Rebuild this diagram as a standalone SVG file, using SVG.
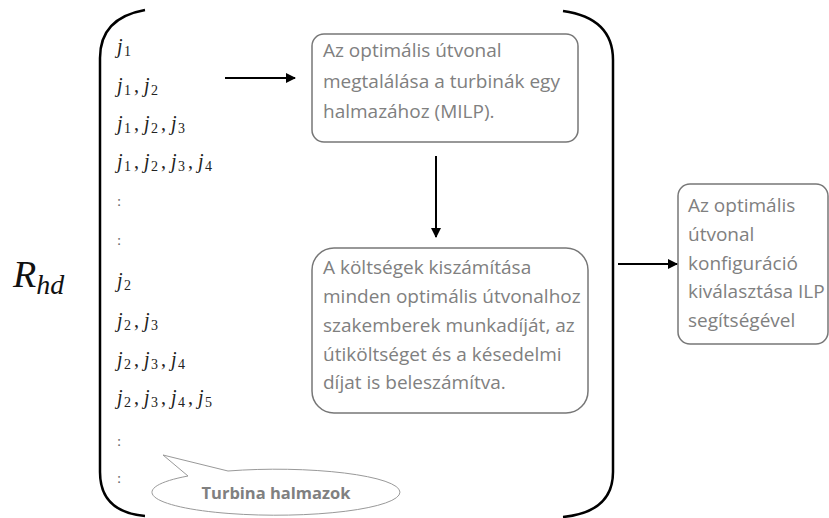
<svg xmlns="http://www.w3.org/2000/svg" width="829" height="518" viewBox="0 0 829 518">
<defs>
<marker id="ah" viewBox="0 0 10 10" refX="9" refY="5" markerWidth="5" markerHeight="5" orient="auto" markerUnits="strokeWidth">
<path d="M0,0 L10,5 L0,10 z" fill="#000"/>
</marker>
<style>
.br{fill:none;stroke:#000;stroke-width:2.5}
.box{fill:#fff;stroke:#777;stroke-width:1.5}
.bt{font-family:"Open Sans","Liberation Sans",Arial,sans-serif;font-size:19px;fill:#808080}
.m{font-family:"Liberation Serif","Times New Roman",serif;font-size:20px;fill:#222}
.j{font-style:italic}
.s{font-size:14px}
.col{font-family:"Liberation Serif",serif;font-size:15px;fill:#666}
.conn{stroke:#000;stroke-width:2;fill:none}
</style>
</defs>
<rect width="829" height="518" fill="#fff"/>

<g id="label-rhd">
<text x="13" y="287" font-family="Liberation Serif,Times New Roman,serif" font-style="italic" font-size="38" fill="#111">R<tspan font-size="28" dy="7">hd</tspan></text>
</g>

<g id="brackets">
<path class="br" d="M145,10 Q100,18 100,58 L100,472 Q100,512 145,516"/>
<path class="br" d="M563,11 Q613,18 613,60 L613,472 Q613,512 563,517"/>
</g>

<g id="turbine-sets">
<text class="m" y="53"><tspan class="j" x="117">j</tspan><tspan class="s" x="124" dy="3">1</tspan></text>
<text class="m" y="92"><tspan class="j" x="117">j</tspan><tspan class="s" x="124" dy="3">1</tspan><tspan x="134" dy="-3">,</tspan><tspan class="j" x="144">j</tspan><tspan class="s" x="151" dy="3">2</tspan></text>
<text class="m" y="130"><tspan class="j" x="117">j</tspan><tspan class="s" x="124" dy="3">1</tspan><tspan x="134" dy="-3">,</tspan><tspan class="j" x="144">j</tspan><tspan class="s" x="151" dy="3">2</tspan><tspan x="161" dy="-3">,</tspan><tspan class="j" x="171">j</tspan><tspan class="s" x="178" dy="3">3</tspan></text>
<text class="m" y="168"><tspan class="j" x="117">j</tspan><tspan class="s" x="124" dy="3">1</tspan><tspan x="134" dy="-3">,</tspan><tspan class="j" x="144">j</tspan><tspan class="s" x="151" dy="3">2</tspan><tspan x="161" dy="-3">,</tspan><tspan class="j" x="171">j</tspan><tspan class="s" x="178" dy="3">3</tspan><tspan x="188" dy="-3">,</tspan><tspan class="j" x="198">j</tspan><tspan class="s" x="205" dy="3">4</tspan></text>
<text class="col" x="117" y="206">:</text>
<text class="col" x="117" y="245">:</text>
<text class="m" y="287"><tspan class="j" x="117">j</tspan><tspan class="s" x="124" dy="3">2</tspan></text>
<text class="m" y="327"><tspan class="j" x="117">j</tspan><tspan class="s" x="124" dy="3">2</tspan><tspan x="134" dy="-3">,</tspan><tspan class="j" x="144">j</tspan><tspan class="s" x="151" dy="3">3</tspan></text>
<text class="m" y="366"><tspan class="j" x="117">j</tspan><tspan class="s" x="124" dy="3">2</tspan><tspan x="134" dy="-3">,</tspan><tspan class="j" x="144">j</tspan><tspan class="s" x="151" dy="3">3</tspan><tspan x="161" dy="-3">,</tspan><tspan class="j" x="171">j</tspan><tspan class="s" x="178" dy="3">4</tspan></text>
<text class="m" y="404"><tspan class="j" x="117">j</tspan><tspan class="s" x="124" dy="3">2</tspan><tspan x="134" dy="-3">,</tspan><tspan class="j" x="144">j</tspan><tspan class="s" x="151" dy="3">3</tspan><tspan x="161" dy="-3">,</tspan><tspan class="j" x="171">j</tspan><tspan class="s" x="178" dy="3">4</tspan><tspan x="188" dy="-3">,</tspan><tspan class="j" x="198">j</tspan><tspan class="s" x="205" dy="3">5</tspan></text>
<text class="col" x="117" y="446">:</text>
<text class="col" x="117" y="483">:</text>
</g>

<g id="node-milp">
<rect class="box" x="312" y="34" width="266" height="108" rx="12"/>
<text class="bt" x="323" y="57">Az optimális útvonal</text>
<text class="bt" x="323" y="88">megtalálása a turbinák egy</text>
<text class="bt" x="323" y="118">halmazához (MILP).</text>
</g>

<g id="node-cost">
<rect class="box" x="312" y="248" width="276" height="165" rx="22"/>
<text class="bt" x="323" y="274">A költségek kiszámítása</text>
<text class="bt" x="323" y="303">minden optimális útvonalhoz</text>
<text class="bt" x="323" y="332">szakemberek munkadíját, az</text>
<text class="bt" x="323" y="361">útiköltséget és a késedelmi</text>
<text class="bt" x="323" y="389">díjat is beleszámítva.</text>
</g>

<g id="node-ilp">
<rect class="box" x="678" y="184" width="150" height="160" rx="12"/>
<text class="bt" x="688" y="212">Az optimális</text>
<text class="bt" x="688" y="241">útvonal</text>
<text class="bt" x="688" y="270">konfiguráció</text>
<text class="bt" x="688" y="298">kiválasztása ILP</text>
<text class="bt" x="688" y="327">segítségével</text>
</g>

<g id="callout">
<path d="M188,476 L163,455 L228,471 A124,23 0 1 1 188,476 Z" fill="#fff" stroke="#999" stroke-width="1"/>
<text x="276" y="499" text-anchor="middle" font-family="Open Sans,Liberation Sans,Arial,sans-serif" font-weight="bold" font-size="16.5" fill="#808080">Turbina halmazok</text>
</g>

<g id="connectors">
<line class="conn" x1="225" y1="78" x2="295" y2="78" marker-end="url(#ah)"/>
<line class="conn" x1="436" y1="156" x2="436" y2="237" marker-end="url(#ah)"/>
<line class="conn" x1="618" y1="264" x2="677" y2="264" marker-end="url(#ah)"/>
</g>
</svg>
